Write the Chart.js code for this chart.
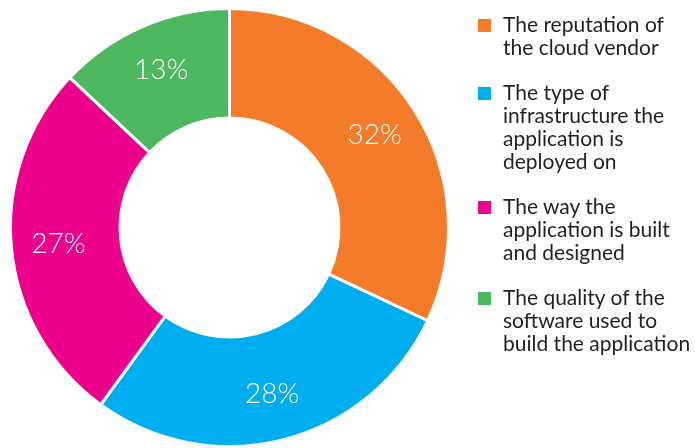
<!DOCTYPE html>
<html>
<head>
<meta charset="utf-8">
<script src="https://cdn.jsdelivr.net/npm/chart.js@4"></script>
<style>
  html, body { margin: 0; padding: 0; background: #fff; }
  #wrap { position: relative; width: 695px; height: 448px; overflow: hidden; }
  #c { position: absolute; left: 0; top: 0; }
  #legend { position: absolute; left: 478px; top: 12px; font-family: Lato, "Open Sans", sans-serif; font-size: 21px; line-height: 23px; color: #231f20; white-space: nowrap; }
  .item { position: relative; padding-left: 25px; margin-bottom: 22px; }
  .sw { position: absolute; left: 0; top: 7px; width: 13px; height: 13px; }
</style>
</head>
<body>
<div id="wrap">
  <canvas id="c" width="695" height="448"></canvas>
  <div id="legend"></div>
</div>
<script>
const categories = [
  ["The reputation of", "the cloud vendor"],
  ["The type of", "infrastructure the", "application is", "deployed on"],
  ["The way the", "application is built", "and designed"],
  ["The quality of the", "software used to", "build the application"]
];
const values = [32, 28, 27, 13];
const colors = ["#f47b2a", "#00aeef", "#ec008c", "#4db85f"];

// HTML legend
const leg = document.getElementById('legend');
categories.forEach((lines, i) => {
  const d = document.createElement('div');
  d.className = 'item';
  const s = document.createElement('span');
  s.className = 'sw';
  s.style.background = colors[i];
  d.appendChild(s);
  lines.forEach((l, j) => {
    if (j) d.appendChild(document.createElement('br'));
    d.appendChild(document.createTextNode(l));
  });
  leg.appendChild(d);
});

const labelPlugin = {
  id: 'pctLabels',
  afterDatasetsDraw(chart) {
    const ctx = chart.ctx;
    const meta = chart.getDatasetMeta(0);
    ctx.save();
    ctx.fillStyle = '#ffffff';
    ctx.font = '300 28px Lato, "Open Sans", sans-serif';
    ctx.textAlign = 'center';
    ctx.textBaseline = 'middle';
    meta.data.forEach((arc, i) => {
      const p = arc.getProps(['x', 'y', 'startAngle', 'endAngle', 'innerRadius', 'outerRadius'], true);
      const mid = (p.startAngle + p.endAngle) / 2;
      const r = p.innerRadius + (p.outerRadius - p.innerRadius) * 0.57;
      ctx.fillText(values[i] + '%', p.x + Math.cos(mid) * r, p.y + Math.sin(mid) * r);
    });
    ctx.restore();
  }
};

new Chart(document.getElementById('c'), {
  type: 'doughnut',
  data: {
    labels: categories.map(l => l.join(' ')),
    datasets: [{
      data: values,
      backgroundColor: colors,
      borderColor: '#ffffff',
      borderWidth: 3
    }]
  },
  options: {
    responsive: false,
    animation: false,
    cutout: '50%',
    layout: { padding: { left: 8, right: 244, top: 7, bottom: 0 } },
    plugins: { legend: { display: false }, tooltip: { enabled: false } }
  },
  plugins: [labelPlugin]
});
</script>
</body>
</html>
